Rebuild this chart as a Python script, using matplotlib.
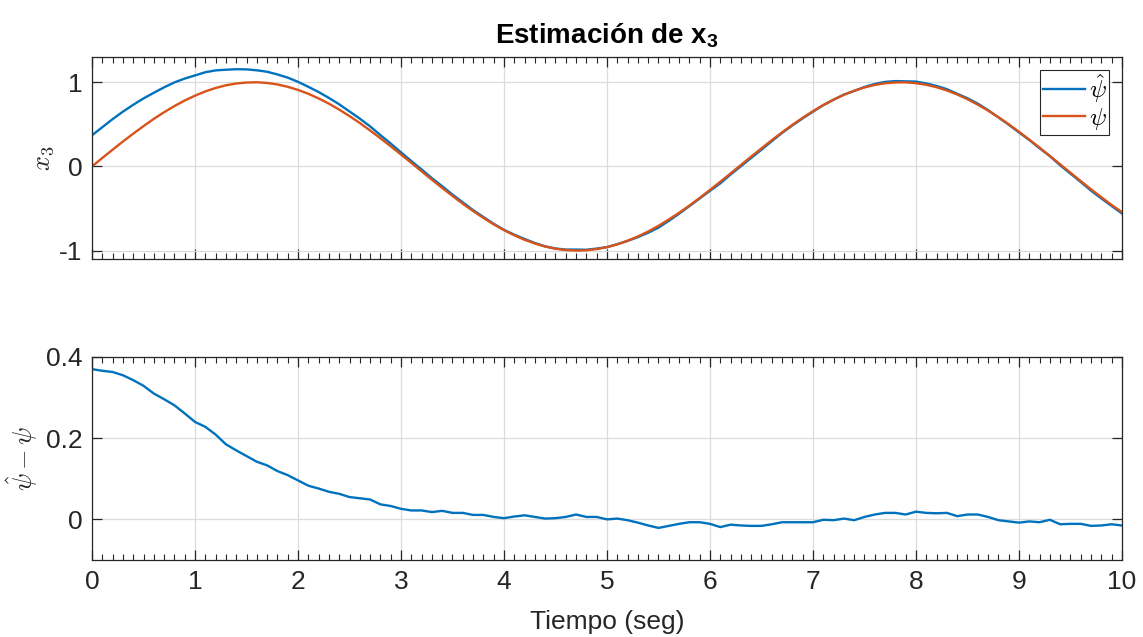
import numpy as np
import matplotlib.pyplot as plt

plt.rcParams['font.family'] = ['Liberation Sans', 'DejaVu Sans']
plt.rcParams['mathtext.fontset'] = 'cm'
plt.rcParams['mathtext.bf'] = 'Liberation Sans:bold'

# tiempo (s), muestreado cada 0.1 s
t = np.arange(0, 101) / 10.0

# psi
psi = [0.000, 0.100, 0.199, 0.296, 0.389, 0.479, 0.565, 0.644, 0.717, 0.783,
       0.841, 0.891, 0.932, 0.964, 0.985, 0.997, 1.000, 0.992, 0.974, 0.946,
       0.909, 0.863, 0.808, 0.746, 0.675, 0.598, 0.516, 0.427, 0.335, 0.239,
       0.141, 0.042, -0.058, -0.158, -0.256, -0.351, -0.443, -0.530, -0.612, -0.688,
       -0.757, -0.818, -0.872, -0.916, -0.952, -0.978, -0.994, -1.000, -0.996, -0.982,
       -0.959, -0.926, -0.883, -0.832, -0.773, -0.706, -0.631, -0.551, -0.465, -0.374,
       -0.279, -0.182, -0.083, 0.017, 0.117, 0.215, 0.312, 0.405, 0.494, 0.578,
       0.657, 0.729, 0.794, 0.851, 0.899, 0.938, 0.968, 0.988, 0.998, 0.999,
       0.989, 0.970, 0.941, 0.902, 0.855, 0.798, 0.734, 0.663, 0.585, 0.501,
       0.412, 0.319, 0.223, 0.124, 0.025, -0.075, -0.174, -0.272, -0.366, -0.458,
       -0.544]

# error de estimacion psi_hat - psi
err = [0.370, 0.366, 0.363, 0.355, 0.343, 0.329, 0.310, 0.296, 0.281, 0.261,
       0.240, 0.228, 0.209, 0.185, 0.170, 0.156, 0.142, 0.133, 0.119, 0.109,
       0.096, 0.083, 0.076, 0.068, 0.063, 0.055, 0.052, 0.049, 0.037, 0.033,
       0.026, 0.022, 0.022, 0.018, 0.021, 0.016, 0.016, 0.011, 0.011, 0.006,
       0.003, 0.007, 0.010, 0.006, 0.002, 0.003, 0.006, 0.012, 0.006, 0.006,
       0.000, 0.002, -0.002, -0.008, -0.015, -0.021, -0.016, -0.011, -0.007, -0.007,
       -0.011, -0.019, -0.013, -0.015, -0.016, -0.016, -0.012, -0.007, -0.007, -0.007,
       -0.007, -0.001, -0.002, 0.002, -0.002, 0.006, 0.012, 0.016, 0.016, 0.012,
       0.019, 0.016, 0.015, 0.016, 0.008, 0.012, 0.012, 0.006, -0.002, -0.005,
       -0.008, -0.005, -0.007, -0.001, -0.012, -0.011, -0.011, -0.016, -0.015, -0.012,
       -0.015]

psi = np.array(psi)
err = np.array(err)
psi_hat = psi + err

blue = '#0072BD'
orange = '#D95319'
axcol = '#262626'

fig = plt.figure(figsize=(11.43, 6.37), dpi=100)
ax1 = fig.add_axes([0.0805, 0.5934, 0.9011, 0.3171])
ax2 = fig.add_axes([0.0805, 0.1209, 0.9011, 0.3187])


def style(ax):
    ax.set_xlim(0, 10)
    ax.set_xticks(range(0, 11))
    ax.set_xticks(np.arange(0, 10.01, 0.1), minor=True)
    ax.grid(True, which='major', color='#dcdcdc', linewidth=0.9)
    ax.set_axisbelow(True)
    ax.tick_params(which='both', direction='in', top=True, right=True,
                   colors=axcol, labelsize=19, labelcolor=axcol, pad=7)
    ax.tick_params(which='major', length=7, width=0.9)
    ax.tick_params(which='minor', length=4, width=0.8, left=False, right=False)
    for s in ax.spines.values():
        s.set_color(axcol)
        s.set_linewidth(0.9)


ax1.plot(t, psi_hat, color=blue, lw=1.7, label=r'$\hat{\psi}$')
ax1.plot(t, psi, color=orange, lw=1.7, label=r'$\psi$')
style(ax1)
ax1.set_ylim(-1.1, 1.3)
ax1.set_yticks([-1, 0, 1])
ax1.set_yticklabels(['-1', '0', '1'])
ax1.tick_params(labelbottom=False)
ax1.set_ylabel(r'$x_3$', fontsize=19, color=axcol, labelpad=2)
ax1.set_title(r'Estimación de x$_\mathbf{3}$', fontsize=20, fontweight='bold',
              math_fontfamily='custom', pad=10)
leg = ax1.legend(loc='upper right', fontsize=18, handlelength=1.7,
                 handletextpad=0.15, borderpad=0.1, labelspacing=0.05,
                 borderaxespad=0.5, fancybox=False, framealpha=1)
leg.get_frame().set_edgecolor(axcol)
leg.get_frame().set_linewidth(0.8)

ax2.plot(t, err, color=blue, lw=1.7)
style(ax2)
ax2.set_ylim(-0.1, 0.4)
ax2.set_yticks([0, 0.2, 0.4])
ax2.set_yticklabels(['0', '0.2', '0.4'])
ax2.set_ylabel(r'$\hat{\psi}-\psi$', fontsize=19, color=axcol, labelpad=4)
ax2.set_xlabel('Tiempo (seg)', fontsize=19, color=axcol, labelpad=12)

fig.savefig('out.png', dpi=100)
